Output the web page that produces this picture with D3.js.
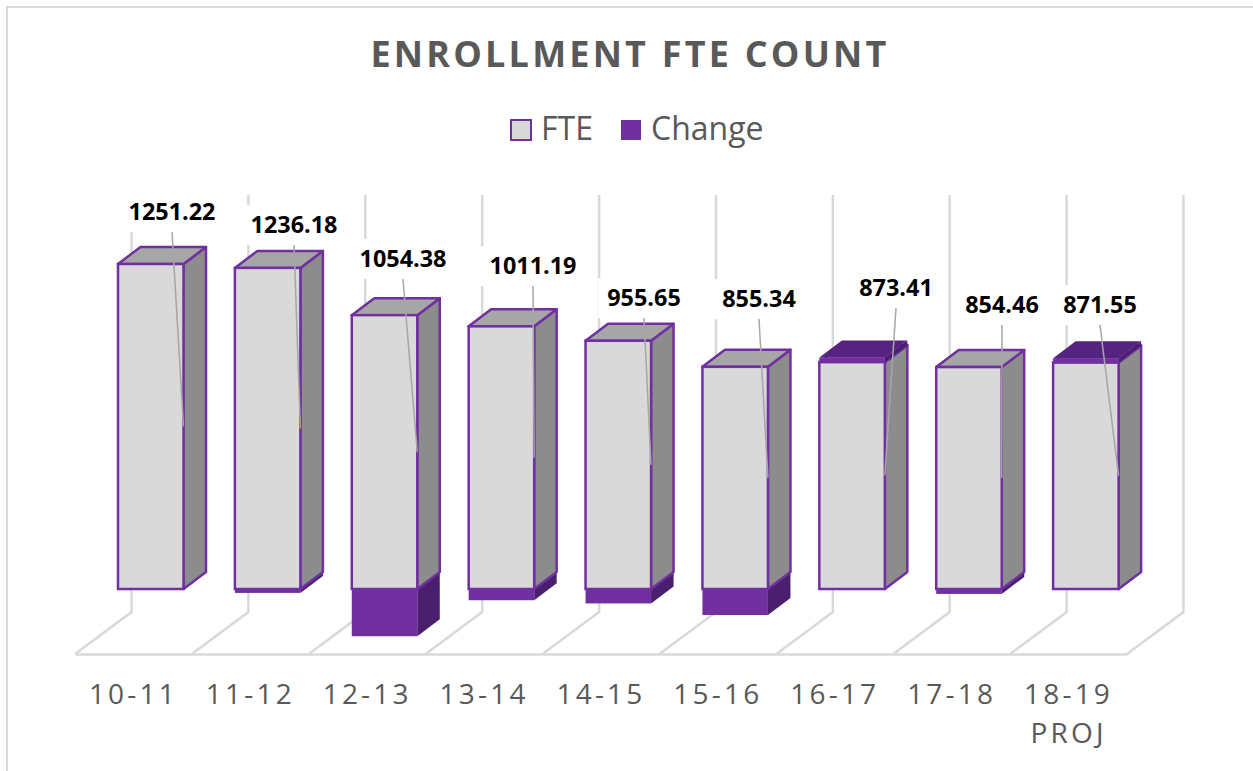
<!DOCTYPE html>
<html>
<head>
<meta charset="utf-8">
<script src="https://cdn.jsdelivr.net/npm/d3@7"></script>
<style>
  body { margin: 0; background: #fff; }
  text { font-family: "Open Sans", sans-serif; }
</style>
</head>
<body>
<svg id="chart" width="1253" height="771"></svg>
<script>
var categories = ["10-11", "11-12", "12-13", "13-14", "14-15", "15-16", "16-17", "17-18", "18-19 PROJ"];
var fteValues = [1251.22, 1236.18, 1054.38, 1011.19, 955.65, 855.34, 873.41, 854.46, 871.55];
var changeValues = [0, -15.04, -181.8, -43.19, -55.54, -100.31, 18.07, -18.95, 17.09];

// where excel left the data labels (hand dragged, so not derived from the values)
var labelCenterX = [172, 294, 403, 533, 644, 759, 896, 1002, 1100];
var labelCenterY = [212, 225, 259, 266, 298, 299, 288, 305, 305];

var PURPLE = "#7030a0", PURPLE_SIDE = "#4a1f6e", PURPLE_TOP = "#562380";
var GRID = "#d9d9d9", TEXT = "#595959";
var BAR_W = 65.5, BAR_INSET = 43, DEPTH_X = 22.5, DEPTH_Y = 17;
var WALL_X = 56.5, WALL_Y = 42, FLOOR_Y = 654, WALL_TOP = 195;

var svg = d3.select("#chart");

// chart area border, only top and left are visible
svg.append("path")
    .attr("d", "M7,771V7H1253")
    .attr("fill", "none")
    .attr("stroke", GRID)
    .attr("stroke-width", 2);

var x = d3.scaleBand().domain(categories).range([75, 1127]);
var y = d3.scaleLinear().domain([0, 1251.22]).range([589, 264]);

svg.append("text")
    .attr("x", 630)
    .attr("y", 67)
    .attr("text-anchor", "middle")
    .style("font-size", "36px")
    .style("font-weight", 700)
    .style("letter-spacing", "3.2px")
    .attr("fill", TEXT)
    .text("ENROLLMENT FTE COUNT");

// legend
svg.append("rect")
    .attr("x", 511).attr("y", 120).attr("width", 20).attr("height", 20)
    .attr("fill", "#d9d9d9").attr("stroke", PURPLE).attr("stroke-width", 2);
svg.append("rect")
    .attr("x", 621).attr("y", 120).attr("width", 20).attr("height", 20)
    .attr("fill", PURPLE);
svg.append("text").attr("x", 541).attr("y", 140).attr("fill", TEXT)
    .style("font-size", "32px").text("FTE");
svg.append("text").attr("x", 651).attr("y", 140).attr("fill", TEXT)
    .style("font-size", "32px").text("Change");

// back wall and floor lines, one more than there are categories
var gridEdges = categories.map(function(c) { return x(c); }).concat([x.range()[1]]);
svg.append("g").selectAll("path")
    .data(gridEdges)
    .enter().append("path")
    .attr("d", function(d) {
      return "M" + d + "," + FLOOR_Y + "L" + (d + WALL_X) + "," + (FLOOR_Y - WALL_Y) + "V" + WALL_TOP;
    })
    .attr("fill", "none")
    .attr("stroke", GRID)
    .attr("stroke-width", 2.5);

// x axis, domain line is the front of the floor
var xAxis = svg.append("g")
    .attr("transform", "translate(0," + FLOOR_Y + ")")
    .call(d3.axisBottom(x).tickSize(0).tickSizeOuter(0).tickPadding(30));
xAxis.select(".domain").attr("stroke", GRID).attr("stroke-width", 2.5);
xAxis.selectAll("text")
    .attr("fill", TEXT)
    .style("font-size", "28px")
    .style("letter-spacing", "3.2px")
    .each(function(d) {
      var parts = d.split(" ");
      var t = d3.select(this).text(null);
      parts.forEach(function(p, i) {
        t.append("tspan")
          .attr("x", 0)
          .attr("dy", i === 0 ? "0.71em" : "39px")
          .text(p);
      });
    });

function left(i) { return x(categories[i]) + BAR_INSET; }

// box with a front, a right side and a top, between two y pixel positions
function drawBox(g, x0, yTop, yBottom, front, side, top, stroke) {
  var x1 = x0 + BAR_W;
  g.append("path")
      .attr("d", "M" + x1 + "," + yTop + "l" + DEPTH_X + "," + (-DEPTH_Y) + "V" + (yBottom - DEPTH_Y) + "L" + x1 + "," + yBottom + "Z")
      .attr("fill", side).attr("stroke", stroke).attr("stroke-width", 2.5).attr("stroke-linejoin", "round");
  g.append("path")
      .attr("d", "M" + x0 + "," + yTop + "l" + DEPTH_X + "," + (-DEPTH_Y) + "H" + (x1 + DEPTH_X) + "L" + x1 + "," + yTop + "Z")
      .attr("fill", top).attr("stroke", stroke).attr("stroke-width", 2.5).attr("stroke-linejoin", "round");
  g.append("rect")
      .attr("x", x0).attr("y", yTop).attr("width", BAR_W).attr("height", yBottom - yTop)
      .attr("fill", front).attr("stroke", stroke).attr("stroke-width", 2.5);
}

var bars = svg.append("g");
categories.forEach(function(c, i) {
  var g = bars.append("g");
  var fte = fteValues[i], change = changeValues[i];

  // negative change hangs under the zero line, so it goes first
  if (change < 0) {
    drawBox(g, left(i), y(0), y(change), PURPLE, PURPLE_SIDE, PURPLE_TOP, "none");
  }
  drawBox(g, left(i), y(fte), y(0), "#d9d9d9", "#8c8c8c", "#a6a6a6", PURPLE);
  if (change > 0) {
    drawBox(g, left(i), y(fte + change), y(fte), PURPLE, PURPLE_SIDE, PURPLE_TOP, "none");
  }
});

// leader lines run from the label to the middle of the bar's right edge
svg.append("g").selectAll("line")
    .data(fteValues)
    .enter().append("line")
    .attr("x1", function(d, i) { return labelCenterX[i]; })
    .attr("y1", function(d, i) { return labelCenterY[i] + 20; })
    .attr("x2", function(d, i) { return left(i) + BAR_W; })
    .attr("y2", function(d) { return y(d / 2); })
    .attr("stroke", "#a6a6a6")
    .attr("stroke-width", 1.5);

var labels = svg.append("g").selectAll("g")
    .data(fteValues)
    .enter().append("g")
    .attr("transform", function(d, i) { return "translate(" + labelCenterX[i] + "," + labelCenterY[i] + ")"; });

labels.append("text")
    .attr("text-anchor", "middle")
    .attr("dy", "0.35em")
    .attr("fill", "#000")
    .style("font-size", "23.4px")
    .style("font-weight", 700)
    .text(function(d) { return d.toFixed(2); });

// white box behind the text cuts the grid lines
labels.insert("rect", "text")
    .attr("x", function() { return -this.parentNode.querySelector("text").getBBox().width / 2 - 9; })
    .attr("y", -20)
    .attr("width", function() { return this.parentNode.querySelector("text").getBBox().width + 18; })
    .attr("height", 40)
    .attr("fill", "#fff");
</script>
</body>
</html>
